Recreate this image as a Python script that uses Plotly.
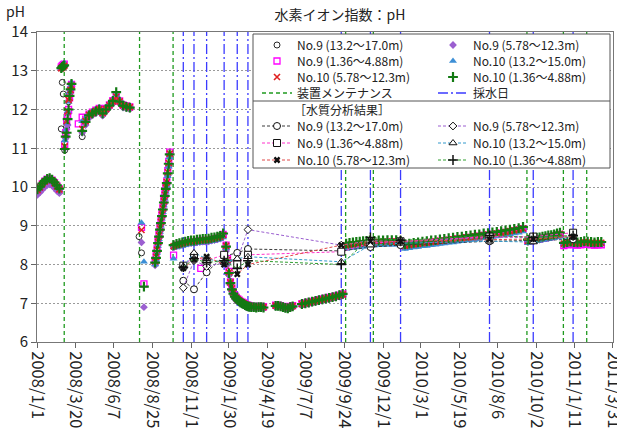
import pandas as pd
import plotly.graph_objects as go

FONT = "Noto Sans CJK JP"

# ---------------- axes ----------------
TICK_LABELS = ["2008/1/1", "2008/3/20", "2008/6/7", "2008/8/25", "2008/11/13",
               "2009/1/30", "2009/4/19", "2009/7/7", "2009/9/24", "2009/12/13",
               "2010/3/1", "2010/5/19", "2010/8/6", "2010/10/24", "2011/1/11",
               "2011/3/31"]
X_START, X_END = "2008-01-01", "2011-03-31 02:00"
Y_MIN, Y_MAX = 6, 14

# ---------------- continuous monitoring timeline ----------------
# each logging period: first day, interval (days), number of readings
SEG_START = ["2008-01-02", "2008-02-20", "2008-02-27", "2008-03-26", "2008-04-03",
             "2008-07-29", "2008-08-31", "2008-10-08", "2008-12-03", "2009-01-24",
             "2009-03-17", "2009-05-06", "2009-06-29", "2009-09-28", "2009-11-25",
             "2010-10-07", "2010-12-20"]
SEG_STEP = [5, 2, 2, 1, 7, 5, 2, 6, 1, 3, 5, 5, 7, 7, 9, 6, 7]
SEG_COUNT = [10, 4, 8, 1, 15, 3, 16, 18, 1, 17, 6, 8, 13, 8, 35, 12, 12]

# pH readings per logging period
NO9_DEEP = [
    [9.88, 9.95, 10.03, 10.10, 10.15, 10.16, 10.13, 10.06, 9.98, 9.90],
    [11.50, 12.70, 12.40, 13.10],
    [10.95, 11.35, 11.55, 11.80, 12.20, 12.40, 12.55, 12.60],
    [None],
    [11.30, 11.65, 11.82, 11.88, 11.93, 11.98, 11.87, 11.98, 12.08, 12.18, 12.30, 12.18, 12.08, 12.05, 12.03],
    [8.72, 8.30, None],
    [8.05, 8.18, 8.36, 8.55, 8.70, 8.88, 9.05, 9.22, 9.40, 9.58, 9.74, 9.92, 10.08, 10.30, 10.55, 10.80],
    [8.45, 8.48, 8.50, 8.52, 8.53, 8.55, 8.56, 8.56, 8.58, 8.59, 8.60, 8.60, 8.61, 8.63, 8.64, 8.66, 8.68, 8.74],
    [None],
    [8.40, 8.05, 7.75, 7.50, 7.34, 7.23, 7.15, 7.10, 7.06, 7.03, 7.00, 6.98, 6.96, 6.93, 6.91, 6.90, 6.89],
    [6.89, 6.89, 6.88, 6.89, 6.89, 6.88],
    [6.92, 6.92, 6.91, 6.89, 6.87, 6.86, 6.89, 6.91],
    [6.96, 6.98, 7.00, 7.02, 7.04, 7.06, 7.08, 7.10, 7.12, 7.14, 7.16, 7.18, 7.21],
    [8.45, 8.47, 8.48, 8.49, 8.50, 8.51, 8.52, 8.53],
    [8.54, 8.55, 8.55, 8.56, 8.56, 8.56, 8.54, 8.45, 8.47, 8.49, 8.50, 8.52, 8.53, 8.55, 8.56, 8.58, 8.59, 8.61,
     8.62, 8.64, 8.65, 8.67, 8.68, 8.70, 8.71, 8.73, 8.74, 8.76, 8.77, 8.79, 8.81, 8.83, 8.85, 8.87, 8.90],
    [8.58, 8.60, 8.61, 8.63, 8.64, 8.66, 8.67, 8.69, 8.70, 8.72, 8.74, 8.76],
    [8.52, 8.54, 8.55, 8.54, 8.53, 8.54, 8.56, 8.55, 8.54, 8.53, 8.54, 8.54],
]
NO9_MID = [
    [9.80, 9.86, 9.93, 10.00, 10.05, 10.07, 10.04, 9.97, 9.90, 9.84],
    [13.05, 13.08, 13.10, 13.12],
    [11.00, 11.25, 11.50, 11.60, 11.90, 12.25, 12.45, 12.60],
    [None],
    [11.40, 11.60, 11.78, 11.85, 11.90, 11.95, 11.84, 11.95, 12.05, 12.15, 12.28, 12.15, 12.05, 12.03, 12.02],
    [None, 8.57, 6.90],
    [7.98, 8.12, 8.30, 8.50, 8.68, 8.85, 9.02, 9.20, 9.37, 9.55, 9.72, 9.90, 10.05, 10.30, 10.52, 10.78],
    [8.44, 8.47, 8.49, 8.51, 8.52, 8.54, 8.55, 8.55, 8.57, 8.58, 8.59, 8.59, 8.60, 8.62, 8.63, 8.65, 8.67, 8.72],
    [None],
    [8.35, 8.00, 7.72, 7.48, 7.32, 7.21, 7.13, 7.09, 7.05, 7.02, 6.99, 6.97, 6.95, 6.92, 6.90, 6.89, 6.88],
    [6.88, 6.88, 6.87, 6.88, 6.88, 6.87],
    [6.91, 6.91, 6.90, 6.88, 6.86, 6.85, 6.88, 6.90],
    [6.95, 6.97, 6.99, 7.01, 7.03, 7.05, 7.07, 7.09, 7.11, 7.13, 7.15, 7.17, 7.20],
    [8.46, 8.48, 8.49, 8.50, 8.51, 8.52, 8.53, 8.54],
    [8.55, 8.56, 8.56, 8.57, 8.57, 8.57, 8.55, 8.46, 8.48, 8.50, 8.51, 8.53, 8.54, 8.56, 8.57, 8.59, 8.60, 8.62,
     8.63, 8.65, 8.66, 8.68, 8.69, 8.71, 8.72, 8.74, 8.75, 8.77, 8.78, 8.80, 8.82, 8.84, 8.86, 8.88, 8.91],
    [8.59, 8.61, 8.62, 8.64, 8.65, 8.67, 8.68, 8.70, 8.71, 8.73, 8.75, 8.77],
    [8.51, 8.53, 8.54, 8.53, 8.52, 8.53, 8.55, 8.54, 8.53, 8.52, 8.53, 8.53],
]
NO9_SHALLOW = [
    [9.93, 10.00, 10.08, 10.15, 10.20, 10.21, 10.18, 10.11, 10.03, 9.95],
    [13.10, 13.13, 13.15, 13.17],
    [11.10, 11.40, 11.70, 11.85, 12.00, 12.30, 12.50, 12.65],
    [11.63],
    [11.80, 11.75, 11.88, 11.93, 11.98, 12.03, 11.93, 12.03, 12.12, 12.23, 12.35, 12.22, 12.12, 12.09, 12.07],
    [None, 8.96, 7.50],
    [8.10, 8.22, 8.40, 8.60, 8.78, 8.95, 9.12, 9.30, 9.47, 9.65, 9.82, 10.00, 10.16, 10.42, 10.66, 10.90],
    [8.24, 8.50, 8.52, 8.54, 8.55, 8.57, 8.58, 8.58, 8.60, 8.61, 8.62, 8.62, 8.63, 8.65, 8.66, 8.68, 8.72, 8.78],
    [7.90],
    [8.50, 8.15, 7.82, 7.55, 7.39, 7.28, 7.20, 7.15, 7.11, 7.08, 7.05, 7.03, 7.01, 6.98, 6.96, 6.95, 6.94],
    [6.92, 6.92, 6.91, 6.92, 6.92, 6.91],
    [6.95, 6.95, 6.94, 6.92, 6.90, 6.89, 6.92, 6.94],
    [6.99, 7.01, 7.03, 7.05, 7.07, 7.09, 7.11, 7.13, 7.15, 7.17, 7.19, 7.21, 7.24],
    [8.47, 8.49, 8.50, 8.51, 8.52, 8.53, 8.54, 8.55],
    [8.56, 8.57, 8.57, 8.58, 8.58, 8.58, 8.56, 8.47, 8.49, 8.51, 8.52, 8.54, 8.55, 8.57, 8.58, 8.60, 8.61, 8.63,
     8.64, 8.66, 8.67, 8.69, 8.70, 8.72, 8.73, 8.75, 8.76, 8.78, 8.79, 8.81, 8.83, 8.85, 8.87, 8.89, 8.92],
    [8.60, 8.62, 8.63, 8.65, 8.66, 8.68, 8.69, 8.71, 8.72, 8.74, 8.76, 8.78],
    [8.49, 8.51, 8.52, 8.51, 8.50, 8.51, 8.53, 8.52, 8.51, 8.50, 8.51, 8.51],
]
NO10_DEEP = [
    [9.91, 9.98, 10.06, 10.13, 10.18, 10.19, 10.16, 10.09, 10.01, 9.93],
    [13.08, 13.10, 13.13, 13.20],
    [11.20, 11.45, 11.65, 11.95, 12.20, 12.45, 12.60, 12.70],
    [None],
    [11.70, 11.78, 11.90, 11.95, 12.00, 12.05, 11.95, 12.05, 12.15, 12.25, 12.38, 12.24, 12.14, 12.10, 12.08],
    [None, 9.08, 8.07],
    [8.00, 8.12, 8.30, 8.48, 8.65, 8.84, 9.00, 9.18, 9.35, 9.52, 9.70, 9.88, 10.03, 10.28, 10.52, 10.76],
    [8.15, 8.44, 8.46, 8.48, 8.50, 8.52, 8.53, 8.53, 8.55, 8.56, 8.57, 8.57, 8.58, 8.60, 8.61, 8.63, 8.65, 8.70],
    [None],
    [8.42, 8.08, 7.76, 7.51, 7.35, 7.24, 7.16, 7.11, 7.07, 7.04, 7.01, 6.99, 6.97, 6.94, 6.92, 6.91, 6.90],
    [6.89, 6.90, 6.89, 6.89, 6.90, 6.89],
    [6.92, 6.93, 6.92, 6.90, 6.88, 6.87, 6.90, 6.92],
    [6.96, 6.98, 7.00, 7.02, 7.04, 7.06, 7.08, 7.10, 7.12, 7.14, 7.16, 7.18, 7.21],
    [8.40, 8.42, 8.43, 8.44, 8.45, 8.46, 8.47, 8.48],
    [8.49, 8.50, 8.50, 8.51, 8.51, 8.51, 8.49, 8.40, 8.42, 8.44, 8.45, 8.47, 8.48, 8.50, 8.51, 8.53, 8.54, 8.56,
     8.57, 8.59, 8.60, 8.62, 8.63, 8.65, 8.66, 8.68, 8.69, 8.71, 8.72, 8.74, 8.76, 8.78, 8.80, 8.82, 8.85],
    [8.55, 8.57, 8.58, 8.60, 8.61, 8.63, 8.64, 8.66, 8.67, 8.69, 8.71, 8.73],
    [8.52, 8.54, 8.55, 8.54, 8.53, 8.54, 8.56, 8.55, 8.54, 8.53, 8.54, 8.54],
]
NO10_MID = [
    [9.92, 9.99, 10.07, 10.14, 10.19, 10.20, 10.17, 10.10, 10.02, 9.94],
    [13.06, 13.09, 13.11, 13.13],
    [11.05, 11.35, 11.70, 11.95, 12.25, 12.30, 12.50, 12.62],
    [None],
    [11.50, 11.70, 11.86, 11.91, 11.96, 12.01, 11.91, 12.01, 12.11, 12.21, 12.33, 12.21, 12.11, 12.08, 12.06],
    [None, 8.89, None],
    [8.08, 8.20, 8.38, 8.58, 8.75, 8.93, 9.10, 9.28, 9.45, 9.63, 9.80, 9.98, 10.13, 10.38, 10.62, 10.86],
    [8.47, 8.50, 8.52, 8.54, 8.56, 8.58, 8.59, 8.59, 8.61, 8.62, 8.63, 8.63, 8.64, 8.66, 8.67, 8.69, 8.71, 8.76],
    [None],
    [8.48, 8.12, 7.80, 7.54, 7.38, 7.27, 7.19, 7.14, 7.10, 7.07, 7.04, 7.02, 7.00, 6.97, 6.95, 6.94, 6.93],
    [6.91, 6.91, 6.90, 6.91, 6.91, 6.90],
    [6.94, 6.94, 6.93, 6.91, 6.89, 6.88, 6.91, 6.93],
    [6.98, 7.00, 7.02, 7.04, 7.06, 7.08, 7.10, 7.12, 7.14, 7.16, 7.18, 7.20, 7.23],
    [8.49, 8.51, 8.52, 8.53, 8.54, 8.55, 8.56, 8.57],
    [8.57, 8.58, 8.58, 8.59, 8.59, 8.59, 8.57, 8.48, 8.50, 8.52, 8.53, 8.55, 8.56, 8.58, 8.59, 8.61, 8.62, 8.64,
     8.65, 8.67, 8.68, 8.70, 8.71, 8.73, 8.74, 8.76, 8.77, 8.79, 8.80, 8.82, 8.84, 8.86, 8.88, 8.90, 8.93],
    [8.61, 8.63, 8.64, 8.66, 8.67, 8.69, 8.70, 8.72, 8.73, 8.75, 8.77, 8.79],
    [8.54, 8.56, 8.57, 8.56, 8.55, 8.56, 8.58, 8.57, 8.56, 8.55, 8.56, 8.56],
]
NO10_SHALLOW = [
    [9.94, 10.01, 10.09, 10.16, 10.21, 10.23, 10.19, 10.12, 10.04, 9.96],
    [13.07, 13.10, 13.12, 13.14],
    [10.98, 11.30, 11.40, 11.75, 12.00, 12.35, 12.52, 12.66],
    [None],
    [11.45, 11.68, 11.85, 11.90, 11.95, 12.00, 11.90, 12.00, 12.10, 12.22, 12.45, 12.20, 12.10, 12.07, 12.05],
    [None, None, 7.43],
    [8.05, 8.17, 8.35, 8.55, 8.72, 8.90, 9.07, 9.25, 9.42, 9.60, 9.77, 9.95, 10.10, 10.35, 10.60, 10.84],
    [8.50, 8.53, 8.55, 8.57, 8.59, 8.61, 8.62, 8.62, 8.64, 8.65, 8.66, 8.66, 8.67, 8.69, 8.70, 8.72, 8.74, 8.80],
    [None],
    [8.46, 8.10, 7.78, 7.52, 7.36, 7.25, 7.17, 7.12, 7.08, 7.05, 7.02, 7.00, 6.98, 6.95, 6.93, 6.92, 6.91],
    [6.90, 6.90, 6.89, 6.90, 6.90, 6.89],
    [6.93, 6.93, 6.92, 6.90, 6.88, 6.87, 6.90, 6.92],
    [6.98, 7.00, 7.02, 7.04, 7.06, 7.08, 7.10, 7.12, 7.14, 7.16, 7.18, 7.21, 7.24],
    [8.54, 8.56, 8.57, 8.58, 8.59, 8.60, 8.61, 8.62],
    [8.61, 8.62, 8.62, 8.63, 8.63, 8.63, 8.61, 8.52, 8.54, 8.56, 8.57, 8.59, 8.60, 8.62, 8.63, 8.65, 8.66, 8.68,
     8.69, 8.71, 8.72, 8.74, 8.75, 8.77, 8.78, 8.80, 8.81, 8.83, 8.84, 8.86, 8.88, 8.90, 8.92, 8.94, 8.97],
    [8.64, 8.66, 8.67, 8.69, 8.70, 8.72, 8.73, 8.75, 8.76, 8.78, 8.80, 8.82],
    [8.56, 8.58, 8.59, 8.58, 8.57, 8.58, 8.60, 8.59, 8.58, 8.57, 8.58, 8.58],
]

# ---------------- events ----------------
MAINT_DATES = ["2008-02-26", "2008-07-30", "2008-10-07", "2009-09-27", "2009-11-23",
               "2010-10-05", "2010-12-19", "2011-02-05"]
SAMPLE_DATES = ["2008-10-28", "2008-11-19", "2008-12-15", "2009-01-20", "2009-02-16",
                "2009-03-10", "2009-09-18", "2009-11-17", "2010-01-18", "2010-07-20",
                "2010-10-18", "2011-01-08"]

# ---------------- water-quality analysis results ----------------
LAB_NO9_DEEP = [7.58, 7.36, 7.80, 8.22, 8.30, 8.40, 8.35, 8.45, 8.50, 8.60, 8.62, 8.65]
LAB_NO9_MID = [7.40, 8.10, 7.95, 8.05, 8.12, 8.90, 8.50, 8.62, 8.58, 8.70, 8.70, 8.72]
LAB_NO9_SHALLOW = [7.97, 8.20, 8.10, 8.25, 8.00, 8.25, 8.33, 8.55, 8.60, 8.72, 8.72, 8.82]
LAB_NO10_DEEP = [7.95, 8.30, 8.15, 8.05, 8.15, 8.20, 8.07, 8.50, 8.55, 8.60, 8.58, 8.70]
LAB_NO10_MID = [7.90, 8.13, 8.20, 8.00, 7.75, 8.00, 8.50, 8.60, 8.60, 8.65, 8.66, 8.72]
LAB_NO10_SHALLOW = [7.93, 8.15, 8.05, 8.10, 7.90, 8.10, 8.00, 8.70, 8.62, 8.75, 8.70, 8.75]

NAMES = ["No.9 (13.2～17.0m)", "No.9 (5.78～12.3m)", "No.9 (1.36～4.88m)",
         "No.10 (13.2～15.0m)", "No.10 (5.78～12.3m)", "No.10 (1.36～4.88m)"]
MAINT_NAME = "装置メンテナンス"
SAMPLE_NAME = "採水日"
LAB_HEADER = "［水質分析結果］"
TITLE = "水素イオン指数：pH"
Y_TITLE = "pH"

# ---------------- build timeline ----------------
mon_dates = []
for start, step, n in zip(SEG_START, SEG_STEP, SEG_COUNT):
    mon_dates += [d.strftime("%Y-%m-%d") for d in pd.date_range(start, periods=n, freq=f"{step}D")]


def flatten(series):
    out = []
    for seg, n in zip(series, SEG_COUNT):
        assert len(seg) == n, (len(seg), n)
        out += seg
    return out


tick_vals = [pd.to_datetime(t, format="%Y/%m/%d").strftime("%Y-%m-%d") for t in TICK_LABELS]

# ---------------- figure geometry (pixels) ----------------
W, H = 617, 428
ML, MR, MT, MB = 37, 4, 32, 86
PW, PH = W - ML - MR, H - MT - MB


def px_x(px):
    return (px - ML) / PW


def px_y(py):
    return (H - MB - py) / PH


fig = go.Figure()

legends = {}


def legend_at(idx, left_px, y_px):
    key = "legend" if idx == 1 else f"legend{idx}"
    legends[key] = dict(
        x=px_x(left_px), y=px_y(y_px), xanchor="left", yanchor="middle",
        bgcolor="rgba(0,0,0,0)", borderwidth=0, itemwidth=30,
        font=dict(family=FONT, size=12, color="#222"),
        tracegroupgap=0,
    )
    return key


COL1, COL2 = 257, 433
ROWS_TOP = [45, 61, 77, 93]
ROWS_LOW = [126, 143, 160]

# event lines
def vlines(dates):
    xs, ys = [], []
    for d in dates:
        xs += [d, d, None]
        ys += [Y_MIN, Y_MAX, None]
    return xs, ys


mx, my = vlines(MAINT_DATES)
fig.add_trace(go.Scatter(x=mx, y=my, mode="lines", name=MAINT_NAME,
                         line=dict(color="#1f9a1f", width=1.3, dash="4px,3px"),
                         legend=legend_at(7, COL1, ROWS_TOP[3]), hoverinfo="skip"))
sx, sy = vlines(SAMPLE_DATES)
fig.add_trace(go.Scatter(x=sx, y=sy, mode="lines", name=SAMPLE_NAME,
                         line=dict(color="#3b3bff", width=1.3, dash="10px,3px,2px,3px"),
                         legend=legend_at(8, COL2, ROWS_TOP[3]), hoverinfo="skip"))

# continuous monitoring series
MON = [NO9_DEEP, NO9_MID, NO9_SHALLOW, NO10_DEEP, NO10_MID, NO10_SHALLOW]
MON_STYLE = [
    dict(symbol="circle-open", color="#2a2a2a", size=6, line=dict(width=1, color="#2a2a2a")),
    dict(symbol="diamond", color="#9b5fd0", size=6, line=dict(width=0)),
    dict(symbol="square-open", color="#ff00ff", size=6, line=dict(width=1.3, color="#ff00ff")),
    dict(symbol="triangle-up", color="#3d8fd6", size=7, line=dict(width=0)),
    dict(symbol="x-thin-open", color="#e02020", size=6, line=dict(width=1.6, color="#e02020")),
    dict(symbol="cross-thin-open", color="#137a13", size=7, line=dict(width=2.2, color="#137a13")),
]
MON_SLOT = [(COL1, ROWS_TOP[0]), (COL2, ROWS_TOP[0]), (COL1, ROWS_TOP[1]),
            (COL2, ROWS_TOP[1]), (COL1, ROWS_TOP[2]), (COL2, ROWS_TOP[2])]
for i, (series, style, slot) in enumerate(zip(MON, MON_STYLE, MON_SLOT)):
    fig.add_trace(go.Scatter(x=mon_dates, y=flatten(series), mode="markers", name=NAMES[i],
                             marker=style, legend=legend_at(i + 1, *slot), hoverinfo="skip"))

# analysis series
LAB = [LAB_NO9_DEEP, LAB_NO9_MID, LAB_NO9_SHALLOW, LAB_NO10_DEEP, LAB_NO10_MID, LAB_NO10_SHALLOW]
LAB_LINE = ["#3a3a3a", "#9b5fd0", "#ff33cc", "#3399cc", "#e04848", "#2f9f2f"]
LAB_MARK = [
    dict(symbol="circle", size=7, color="white", line=dict(width=1, color="#111")),
    dict(symbol="diamond", size=6, color="white", line=dict(width=1, color="#111")),
    dict(symbol="square", size=7, color="white", line=dict(width=1, color="#111")),
    dict(symbol="triangle-up", size=7, color="white", line=dict(width=1, color="#111")),
    dict(symbol="x", size=6, color="#111", line=dict(width=0)),
    dict(symbol="cross-thin-open", size=7, color="#111", line=dict(width=1.5, color="#111")),
]
LAB_SLOT = [(COL1, ROWS_LOW[0]), (COL2, ROWS_LOW[0]), (COL1, ROWS_LOW[1]),
            (COL2, ROWS_LOW[1]), (COL1, ROWS_LOW[2]), (COL2, ROWS_LOW[2])]
for i, (vals, lc, mk, slot) in enumerate(zip(LAB, LAB_LINE, LAB_MARK, LAB_SLOT)):
    fig.add_trace(go.Scatter(x=SAMPLE_DATES, y=vals, mode="lines+markers", name=NAMES[i],
                             line=dict(color=lc, width=1, dash="3px,2px"), marker=mk,
                             legend=legend_at(9 + i, *slot), hoverinfo="skip"))

# legend frame
BOX_L, BOX_R, BOX_T, BOX_B, BOX_SEP = 253, 610, 34, 168, 101
shapes = [
    dict(type="rect", xref="paper", yref="paper", x0=px_x(BOX_L), x1=px_x(BOX_R),
         y0=px_y(BOX_B), y1=px_y(BOX_T), fillcolor="white", line=dict(color="#555", width=1),
         layer="above"),
    dict(type="line", xref="paper", yref="paper", x0=px_x(BOX_L), x1=px_x(BOX_R),
         y0=px_y(BOX_SEP), y1=px_y(BOX_SEP), line=dict(color="#555", width=1), layer="above"),
]

annotations = [
    dict(text=LAB_HEADER, xref="paper", yref="paper", x=px_x(292), y=px_y(109),
         xanchor="left", yanchor="middle", showarrow=False,
         font=dict(family=FONT, size=12, color="#222")),
    dict(text=Y_TITLE, xref="paper", yref="paper", x=px_x(15), y=px_y(11),
         xanchor="center", yanchor="middle", showarrow=False,
         font=dict(family=FONT, size=14, color="#222")),
]

fig.update_layout(
    width=W, height=H,
    margin=dict(l=ML, r=MR, t=MT, b=MB, pad=0, autoexpand=False),
    paper_bgcolor="white", plot_bgcolor="white",
    showlegend=True,
    font=dict(family=FONT, size=14, color="#222"),
    title=dict(text=TITLE, x=340 / W, xanchor="center", y=1 - 15 / H, yanchor="middle",
               font=dict(family=FONT, size=14, color="#222")),
    xaxis=dict(type="date", range=[X_START, X_END], tickvals=tick_vals, ticktext=TICK_LABELS,
               tickangle=90, ticks="outside", ticklen=5, tickcolor="#666",
               showline=True, linecolor="#777", mirror=True, showgrid=False, zeroline=False,
               automargin=False, ticklabeloverflow="allow",
               tickfont=dict(family=FONT, size=16.5, color="#222")),
    yaxis=dict(range=[Y_MIN, Y_MAX], dtick=1, ticks="outside", ticklen=5, tickcolor="#666",
               showline=True, linecolor="#777", mirror=True, showgrid=True,
               gridcolor="#9a9a9a", griddash="2px,2px", gridwidth=1, zeroline=False,
               automargin=False,
               tickfont=dict(family=FONT, size=15, color="#222")),
    shapes=shapes, annotations=annotations,
    **legends,
)

fig.write_html("out.html")
